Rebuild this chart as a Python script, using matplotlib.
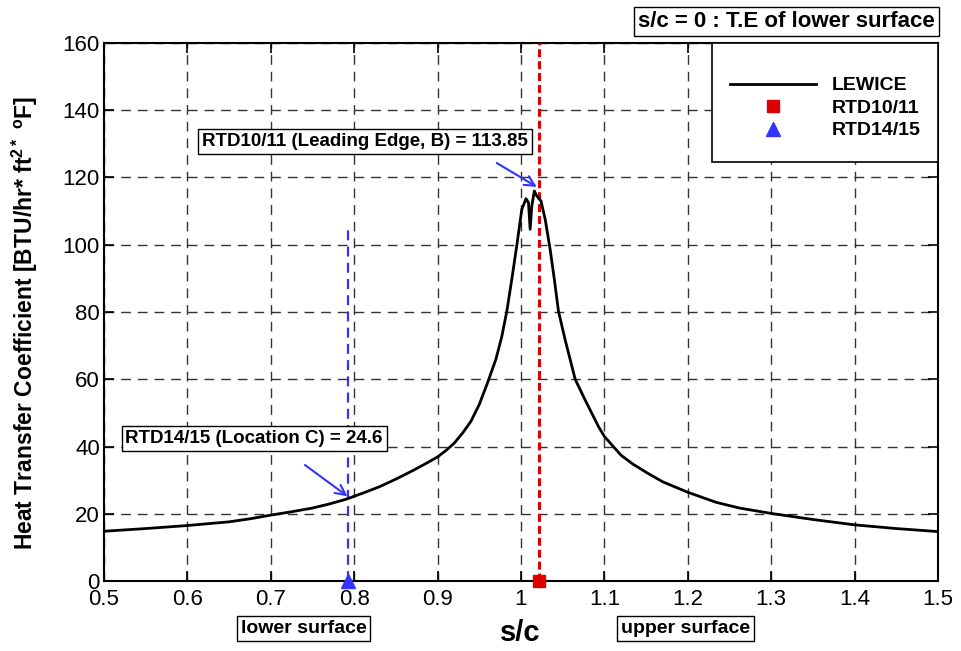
"""
Heat transfer coefficient along s/c, LEWICE vs RTD locations
"""
import matplotlib
matplotlib.use('Agg')
import matplotlib.pyplot as plt
from matplotlib.patches import Rectangle
from matplotlib.ticker import FormatStrFormatter

plt.rcParams['font.family'] = ['Liberation Sans', 'DejaVu Sans']
plt.rcParams['mathtext.fontset'] = 'custom'
plt.rcParams['mathtext.rm'] = 'Liberation Sans:bold'
plt.rcParams['mathtext.default'] = 'rm'

# LEWICE curve
s_c = [0.50, 0.55, 0.60, 0.65, 0.675, 0.70, 0.725, 0.75, 0.77, 0.79,
       0.81, 0.83, 0.85, 0.87, 0.885, 0.90, 0.91, 0.92, 0.93, 0.94,
       0.95, 0.96, 0.97, 0.977, 0.983, 0.989, 0.995, 1.001, 1.006, 1.009,
       1.011, 1.013, 1.016, 1.019, 1.024, 1.029, 1.035, 1.040, 1.045, 1.053,
       1.065, 1.077, 1.093, 1.10, 1.12, 1.134, 1.153, 1.17, 1.20, 1.234,
       1.262, 1.30, 1.35, 1.40, 1.45, 1.50]
htc = [14.8, 15.6, 16.5, 17.6, 18.5, 19.6, 20.6, 21.7, 22.9, 24.3,
       26.1, 28.0, 30.3, 32.8, 34.8, 36.9, 38.8, 41.0, 44.0, 47.5,
       52.5, 59.0, 66.0, 72.7, 80.2, 89.7, 99.8, 110.5, 113.7, 112.5,
       104.6, 111.5, 116.0, 114.5, 113.0, 107.6, 98.6, 89.7, 80.2, 71.7,
       60.0, 53.8, 45.9, 43.0, 37.4, 34.8, 31.9, 29.5, 26.4, 23.4,
       21.7, 20.1, 18.3, 16.7, 15.6, 14.7]

# RTD sensor locations
rtd_b_x = 1.022
rtd_b_val = 113.85
rtd_c_x = 0.792
rtd_c_val = 24.6

x_ticks = [0.5, 0.6, 0.7, 0.8, 0.9, 1.0, 1.1, 1.2, 1.3, 1.4, 1.5]
y_ticks = [0, 20, 40, 60, 80, 100, 120, 140, 160]

fig = plt.figure(figsize=(9.62, 6.51), dpi=100)
ax = fig.add_axes([0.1081, 0.1075, 0.8669, 0.8265])

ax.plot(s_c, htc, color='black', linewidth=2, label='LEWICE', zorder=4)

# sensor lines and markers
ax.plot([rtd_b_x, rtd_b_x], [0, 160], color='#dd0000', linewidth=2.2,
        linestyle=(0, (2.6, 1.3)), zorder=3)
ax.plot([rtd_c_x, rtd_c_x], [0, 106], color='#3333ff', linewidth=1.6,
        linestyle=(0, (4.5, 2.8)), zorder=3)
ax.plot([rtd_b_x], [0], 's', color='#dd0000', markersize=9, clip_on=False,
        label='RTD10/11', zorder=5)
ax.plot([rtd_c_x], [0], '^', color='#3333ff', markersize=10, clip_on=False,
        label='RTD14/15', zorder=5)

# value labels and their arrows
box = dict(boxstyle='square,pad=0.2', facecolor='white', edgecolor='black', linewidth=1)
ax.text(0.813, 130.7, f'RTD10/11 (Leading Edge, B) = {rtd_b_val}', ha='center',
        va='center', fontsize=13.5, fontweight='bold', bbox=box, zorder=6)
ax.text(0.680, 42.4, f'RTD14/15 (Location C) = {rtd_c_val}', ha='center',
        va='center', fontsize=13.5, fontweight='bold', bbox=box, zorder=6)
arrow = dict(arrowstyle='->', color='#3333ff', lw=1.5, shrinkA=0, shrinkB=0,
             mutation_scale=18)
ax.annotate('', xy=(rtd_b_x - 0.003, 117.2), xytext=(0.971, 124.3),
            arrowprops=arrow, zorder=6)
ax.annotate('', xy=(rtd_c_x, 25.2), xytext=(0.741, 34.5),
            arrowprops=arrow, zorder=6)

ax.set_xlim(0.5, 1.5)
ax.set_ylim(0, 160)
ax.set_xticks(x_ticks)
ax.set_yticks(y_ticks)
ax.xaxis.set_major_formatter(FormatStrFormatter('%g'))
ax.tick_params(direction='in', length=7, width=1.2, labelsize=16,
               top=True, right=True)
ax.tick_params(axis='x', pad=6)
ax.tick_params(axis='y', pad=3)
ax.grid(True, color='#333333', linewidth=1, linestyle=(0, (7, 5)))
for sp in ax.spines.values():
    sp.set_linewidth(1.5)

ax.set_xlabel('s/c', fontsize=21, fontweight='bold')
ax.xaxis.set_label_coords(0.499, -0.07)
ax.set_ylabel('Heat Transfer Coefficient [BTU/hr* ft$^{2*}$ $^{o}$F]',
              fontsize=16.5, fontweight='bold')
ax.yaxis.set_label_coords(-0.077, 0.48)

# legend frame drawn by hand, entries placed inside it
ax.add_patch(Rectangle((0.729, 0.779), 0.271, 0.221, transform=ax.transAxes,
                       facecolor='white', edgecolor='black', linewidth=1.2,
                       zorder=7, clip_on=False))
leg = ax.legend(loc='center', bbox_to_anchor=(0.865, 0.879), borderaxespad=0,
                frameon=False, prop=dict(weight='bold', size=14), handlelength=4.4,
                handletextpad=0.8, borderpad=0, labelspacing=0.25)
leg.set_zorder(8)

# side notes
note = dict(boxstyle='square,pad=0.2', facecolor='white', edgecolor='black', linewidth=1)
fig.text(0.8175, 0.967, 's/c = 0 : T.E of lower surface', ha='center', va='center',
         fontsize=16, fontweight='bold', bbox=note)
fig.text(0.3155, 0.035, 'lower surface', ha='center', va='center',
         fontsize=14, fontweight='bold', bbox=note)
fig.text(0.7126, 0.035, 'upper surface', ha='center', va='center',
         fontsize=14, fontweight='bold', bbox=note)

plt.savefig('out.png', dpi=100)
plt.close()
